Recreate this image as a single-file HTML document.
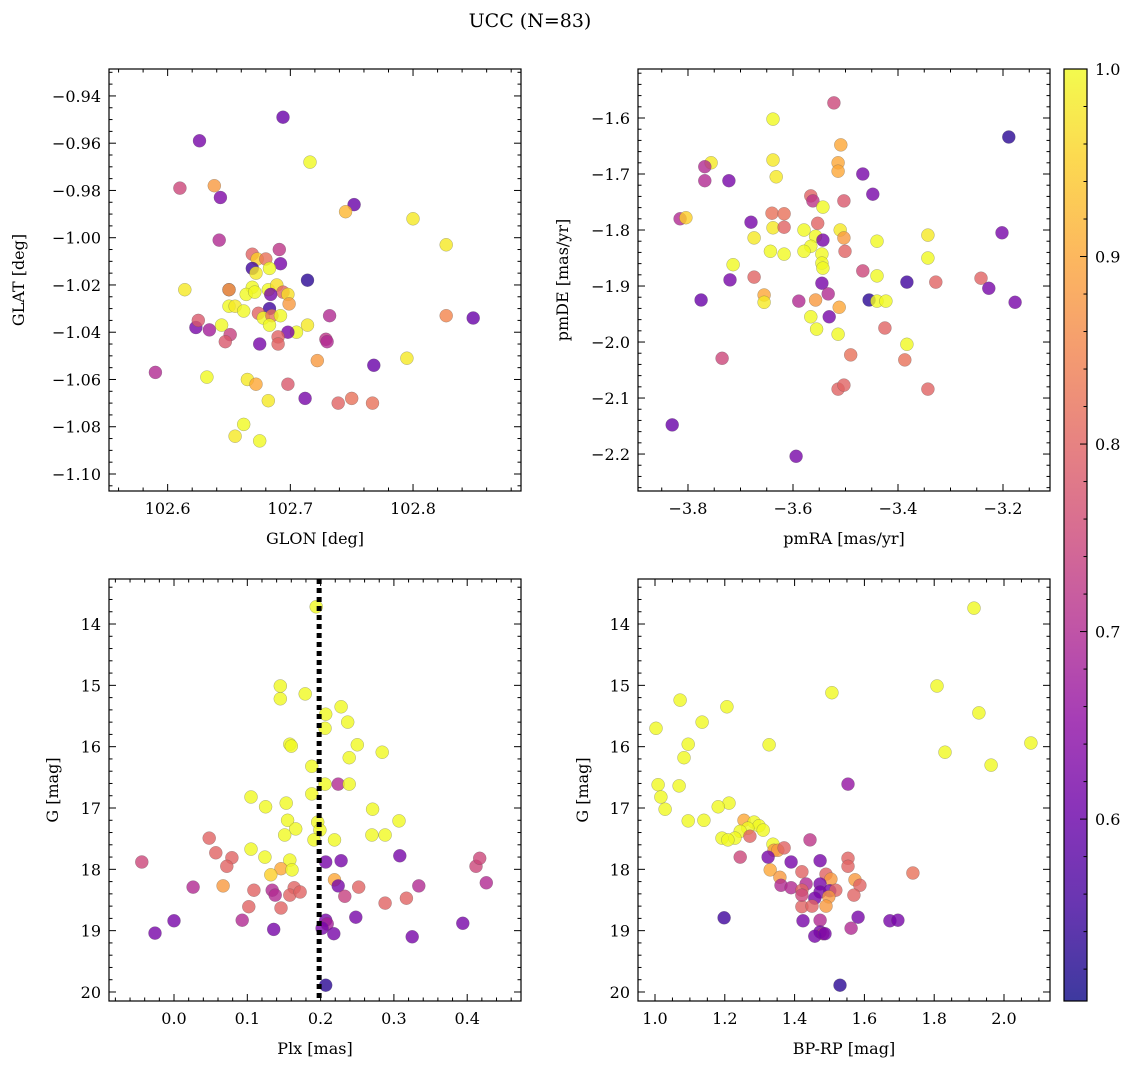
<!DOCTYPE html>
<html><head><meta charset="utf-8"><title>UCC (N=83)</title>
<style>
html,body{margin:0;padding:0;background:#fff;}
svg{display:block;font-family:"DejaVu Serif","Liberation Serif",serif;}
</style></head>
<body>
<svg id="chart" width="1136" height="1068" viewBox="0 0 1136 1068" xmlns="http://www.w3.org/2000/svg">
<defs>
<linearGradient id="cbgrad" x1="0" y1="1" x2="0" y2="0">
<stop offset="0" stop-color="#0d0887"/><stop offset="0.1" stop-color="#41049d"/><stop offset="0.2" stop-color="#6a00a8"/><stop offset="0.3" stop-color="#8f0da4"/><stop offset="0.4" stop-color="#b12a90"/><stop offset="0.5" stop-color="#cc4778"/><stop offset="0.6" stop-color="#e16462"/><stop offset="0.7" stop-color="#f2844b"/><stop offset="0.8" stop-color="#fca636"/><stop offset="0.9" stop-color="#fcce25"/><stop offset="1" stop-color="#f0f921"/>
</linearGradient>
</defs>
<text x="530" y="27" text-anchor="middle" font-size="19">UCC (N=83)</text>
</svg>
<script>
// Panel 1: GLON vs GLAT
const glonX=[102.694,102.626,102.610,102.638,102.643,102.716,102.752,102.745,102.800,102.827,102.642,102.691,102.669,102.673,102.680,102.692,102.669,102.683,102.672,102.714,102.614,102.650,102.650,102.669,102.682,102.689,102.694,102.698,102.664,102.671,102.684,102.699,102.650,102.655,102.662,102.683,102.674,102.678,102.685,102.692,102.683,102.732,102.714,102.705,102.698,102.849,102.827,102.644,102.623,102.634,102.625,102.651,102.647,102.690,102.690,102.675,102.729,102.730,102.722,102.768,102.795,102.590,102.632,102.665,102.672,102.698,102.682,102.712,102.739,102.750,102.767,102.662,102.655,102.675];
const glatY=[-0.949,-0.959,-0.979,-0.978,-0.983,-0.968,-0.986,-0.989,-0.992,-1.003,-1.001,-1.005,-1.007,-1.009,-1.009,-1.011,-1.013,-1.013,-1.015,-1.018,-1.022,-1.022,-1.022,-1.021,-1.022,-1.020,-1.023,-1.024,-1.024,-1.023,-1.024,-1.028,-1.029,-1.029,-1.031,-1.030,-1.032,-1.034,-1.033,-1.033,-1.037,-1.033,-1.037,-1.040,-1.040,-1.034,-1.033,-1.037,-1.038,-1.039,-1.035,-1.041,-1.044,-1.042,-1.045,-1.045,-1.043,-1.044,-1.052,-1.054,-1.051,-1.057,-1.059,-1.060,-1.062,-1.062,-1.069,-1.068,-1.070,-1.068,-1.070,-1.079,-1.084,-1.086];
const probA=[0.6,0.62,0.75,0.88,0.63,1.0,0.6,0.92,0.98,0.98,0.7,0.72,0.8,0.95,0.82,0.62,0.55,1.0,0.98,0.53,0.98,0.6,0.9,1.0,1.0,0.97,0.8,0.97,1.0,1.0,0.62,0.88,1.0,0.98,1.0,0.55,0.8,1.0,0.82,1.0,1.0,0.7,0.98,1.0,0.62,0.6,0.85,1.0,0.62,0.68,0.78,0.74,0.78,0.8,0.8,0.62,0.72,0.7,0.88,0.6,0.98,0.7,1.0,0.98,0.9,0.78,0.98,0.62,0.8,0.82,0.82,1.0,0.98,1.0];
// Panel 2: pmRA vs pmDE
const pmraX=[-3.522,-3.189,-3.638,-3.509,-3.756,-3.768,-3.638,-3.514,-3.467,-3.768,-3.722,-3.632,-3.514,-3.448,-3.566,-3.562,-3.503,-3.815,-3.804,-3.680,-3.640,-3.617,-3.202,-3.543,-3.638,-3.617,-3.553,-3.510,-3.557,-3.503,-3.543,-3.579,-3.674,-3.440,-3.343,-3.566,-3.579,-3.545,-3.501,-3.643,-3.617,-3.545,-3.343,-3.714,-3.543,-3.467,-3.674,-3.720,-3.440,-3.242,-3.545,-3.383,-3.328,-3.227,-3.533,-3.655,-3.775,-3.589,-3.557,-3.455,-3.440,-3.177,-3.655,-3.423,-3.512,-3.566,-3.531,-3.555,-3.514,-3.425,-3.383,-3.735,-3.490,-3.387,-3.514,-3.503,-3.343,-3.830,-3.594];
const pmdeY=[-1.573,-1.634,-1.602,-1.648,-1.680,-1.687,-1.675,-1.680,-1.700,-1.712,-1.712,-1.705,-1.695,-1.736,-1.739,-1.748,-1.748,-1.780,-1.778,-1.786,-1.770,-1.771,-1.805,-1.759,-1.796,-1.795,-1.788,-1.800,-1.811,-1.814,-1.818,-1.800,-1.814,-1.820,-1.809,-1.829,-1.838,-1.843,-1.838,-1.838,-1.843,-1.859,-1.850,-1.862,-1.868,-1.873,-1.884,-1.889,-1.882,-1.886,-1.895,-1.893,-1.893,-1.904,-1.914,-1.916,-1.925,-1.927,-1.925,-1.925,-1.927,-1.929,-1.929,-1.927,-1.938,-1.955,-1.955,-1.977,-1.986,-1.975,-2.004,-2.029,-2.023,-2.032,-2.084,-2.077,-2.084,-2.148,-2.204];
const probB=[0.75,0.53,1.0,0.9,0.98,0.7,0.98,0.9,0.62,0.7,0.62,0.98,0.9,0.62,0.8,0.72,0.78,0.7,0.95,0.62,0.82,0.82,0.62,1.0,0.98,0.8,0.8,0.98,1.0,0.88,0.62,1.0,0.98,1.0,0.98,1.0,1.0,1.0,0.8,1.0,1.0,1.0,1.0,1.0,1.0,0.75,0.8,0.62,1.0,0.8,0.62,0.55,0.8,0.62,0.7,0.9,0.6,0.7,0.88,0.53,1.0,0.62,0.98,1.0,0.9,1.0,0.62,1.0,1.0,0.8,1.0,0.75,0.82,0.82,0.8,0.8,0.8,0.6,0.62];
// Panel 3: Plx vs G
const plxX=[0.194,0.145,0.145,0.179,0.228,0.207,0.237,0.206,0.158,0.160,0.250,0.284,0.239,0.188,0.224,0.239,0.206,0.105,0.188,0.153,0.125,0.271,0.307,0.155,0.196,0.166,0.199,0.151,0.270,0.288,0.191,0.219,0.048,0.105,0.057,0.124,0.079,0.308,0.158,0.207,0.228,-0.044,0.072,0.412,0.417,0.426,0.146,0.161,0.132,0.219,0.224,0.026,0.067,0.334,0.109,0.134,0.138,0.164,0.158,0.172,0.252,0.233,0.317,0.288,0.102,0.146,0.093,0.248,0.207,0.209,0.394,0.000,0.136,0.202,-0.026,0.218,0.325,0.207];
const gmagA=[13.72,15.01,15.22,15.14,15.35,15.47,15.60,15.70,15.96,15.99,15.97,16.09,16.18,16.32,16.61,16.61,16.61,16.82,16.77,16.92,16.98,17.02,17.21,17.20,17.23,17.34,17.36,17.44,17.44,17.44,17.52,17.52,17.49,17.67,17.73,17.80,17.81,17.78,17.85,17.88,17.86,17.88,17.95,17.95,17.82,18.22,17.99,18.01,18.09,18.17,18.27,18.29,18.27,18.27,18.34,18.34,18.42,18.30,18.42,18.37,18.29,18.44,18.47,18.55,18.61,18.63,18.83,18.78,18.83,18.89,18.88,18.84,18.98,18.96,19.04,19.05,19.10,19.89];
const probC=[1.0,1.0,1.0,1.0,1.0,1.0,1.0,1.0,1.0,1.0,1.0,1.0,1.0,1.0,0.7,1.0,1.0,1.0,1.0,1.0,1.0,1.0,1.0,1.0,1.0,1.0,1.0,1.0,1.0,1.0,1.0,1.0,0.8,1.0,0.8,1.0,0.8,0.62,1.0,0.62,0.62,0.75,0.8,0.75,0.75,0.7,0.9,1.0,0.95,0.9,0.62,0.7,0.88,0.7,0.8,0.7,0.7,0.8,0.8,0.8,0.8,0.74,0.8,0.8,0.8,0.8,0.7,0.62,0.62,0.68,0.62,0.62,0.62,0.62,0.62,0.62,0.62,0.53];
const plxLine=[0.198];
// Panel 4: BP-RP vs G
const bprpX=[1.914,1.808,1.507,1.072,1.206,1.928,1.135,1.003,2.077,1.095,1.327,1.831,1.963,1.083,1.553,1.009,1.069,1.017,1.029,1.212,1.181,1.095,1.140,1.255,1.284,1.298,1.266,1.244,1.310,1.272,1.229,1.192,1.209,1.338,1.341,1.352,1.370,1.444,1.244,1.324,1.553,1.473,1.390,1.553,1.330,1.421,1.490,1.739,1.358,1.504,1.573,1.433,1.473,1.587,1.361,1.473,1.501,1.390,1.421,1.518,1.570,1.458,1.498,1.490,1.421,1.450,1.421,1.424,1.198,1.582,1.673,1.696,1.473,1.562,1.473,1.481,1.458,1.487,1.530];
const gmagB=[13.74,15.01,15.12,15.24,15.35,15.45,15.60,15.70,15.94,15.96,15.97,16.09,16.30,16.18,16.61,16.62,16.64,16.82,17.02,16.92,16.98,17.21,17.20,17.20,17.23,17.29,17.33,17.38,17.36,17.46,17.49,17.49,17.52,17.59,17.69,17.69,17.65,17.52,17.80,17.80,17.82,17.86,17.88,17.95,18.01,18.04,18.08,18.06,18.13,18.16,18.17,18.24,18.24,18.26,18.26,18.37,18.35,18.30,18.34,18.34,18.42,18.47,18.45,18.60,18.61,18.60,18.42,18.84,18.79,18.78,18.84,18.83,18.83,18.96,19.02,19.05,19.09,19.05,19.89];
const probD=[1.0,1.0,1.0,1.0,1.0,1.0,1.0,1.0,1.0,1.0,1.0,1.0,1.0,1.0,0.66,1.0,1.0,1.0,1.0,1.0,1.0,1.0,1.0,0.9,1.0,1.0,1.0,1.0,1.0,0.8,1.0,1.0,1.0,1.0,0.88,0.88,0.8,0.72,0.75,0.62,0.8,0.62,0.62,0.8,0.9,0.8,0.8,0.82,0.88,0.88,0.88,0.7,0.62,0.8,0.7,0.62,0.62,0.7,0.8,0.8,0.8,0.62,0.88,0.88,0.8,0.8,0.75,0.62,0.55,0.62,0.62,0.62,0.7,0.7,0.62,0.7,0.62,0.62,0.53];
// Colorbar
const cbTicks=[0.6,0.7,0.8,0.9,1.0];

const NS="http://www.w3.org/2000/svg";
const svg=document.getElementById('chart');
const stops=[[13,8,135],[65,4,157],[106,0,168],[143,13,164],[177,42,144],[204,71,120],[225,100,98],[242,132,75],[252,166,54],[252,206,37],[240,249,33]];
const VMIN=0.503,VMAX=1.0;
function plasma(p){let t=(p-VMIN)/(VMAX-VMIN);t=Math.max(0,Math.min(1,t))*10;const i=Math.min(9,Math.floor(t)),f=t-i;const a=stops[i],b=stops[i+1];return 'rgb('+a.map((v,k)=>Math.round(v+(b[k]-v)*f)).join(',')+')';}
function el(tag,attrs,parent){const e=document.createElementNS(NS,tag);for(const k in attrs)e.setAttribute(k,attrs[k]);(parent||svg).appendChild(e);return e;}
function fmt(v,d){let s=v.toFixed(d);if(s.startsWith('-'))s='\u2212'+s.slice(1);return s;}

function panel(cfg,xs,ys,ps){
  const g=el('g',{});
  
  
  const L=cfg.box[0],T=cfg.box[1],R=cfg.box[2],B=cfg.box[3];
  const sx=v=>L+(v-cfg.xr[0])/(cfg.xr[1]-cfg.xr[0])*(R-L);
  const sy=v=>cfg.yinv? T+(v-cfg.yr[0])/(cfg.yr[1]-cfg.yr[0])*(B-T) : B-(v-cfg.yr[0])/(cfg.yr[1]-cfg.yr[0])*(B-T);
  for(let i=0;i<xs.length;i++){
    const c=el('circle',{cx:sx(xs[i]).toFixed(1),cy:sy(ys[i]).toFixed(1),r:6.5,fill:plasma(ps[i]),'fill-opacity':0.8,stroke:'#555','stroke-width':0.4,'stroke-opacity':0.6},g);
    
    
  }
  if(cfg.vline){for(const v of cfg.vline){const l=el('line',{x1:sx(v),x2:sx(v),y1:T,y2:B,stroke:'#000','stroke-width':5,'stroke-dasharray':'5,4'},g);}}
  const fr=el('rect',{x:L,y:T,width:R-L,height:B-T,fill:'none',stroke:'#000','stroke-width':1.2},g);
  
  
  const eps=1e-9;
  const xa=el('g',{},g);
  let startM=Math.ceil((cfg.xr[0]-eps)/cfg.xminor);
  for(let k=startM;k*cfg.xminor<=cfg.xr[1]+eps;k++){const v=k*cfg.xminor;const x=sx(v);
    const isMaj=Math.abs(v/cfg.xmajor-Math.round(v/cfg.xmajor))<1e-6;const len=isMaj?7:3.5;
    el('line',{x1:x,x2:x,y1:B,y2:B-len,stroke:'#000','stroke-width':1},xa);el('line',{x1:x,x2:x,y1:T,y2:T+len,stroke:'#000','stroke-width':1},xa);
    if(isMaj){const t=el('text',{x:x,y:B+23,'text-anchor':'middle','font-size':16},xa);t.textContent=fmt(v,cfg.xdec);}}
  const ya=el('g',{},g);
  startM=Math.ceil((cfg.yr[0]-eps)/cfg.yminor);
  for(let k=startM;k*cfg.yminor<=cfg.yr[1]+eps;k++){const v=k*cfg.yminor;const y=sy(v);
    const isMaj=Math.abs(v/cfg.ymajor-Math.round(v/cfg.ymajor))<1e-6;const len=isMaj?7:3.5;
    el('line',{x1:L,x2:L+len,y1:y,y2:y,stroke:'#000','stroke-width':1},ya);el('line',{x1:R,x2:R-len,y1:y,y2:y,stroke:'#000','stroke-width':1},ya);
    if(isMaj){const t=el('text',{x:L-8,y:y+6,'text-anchor':'end','font-size':16},ya);t.textContent=fmt(v,cfg.ydec);}}
  const xl=el('text',{x:(L+R)/2,y:B+53,'text-anchor':'middle','font-size':16},g);xl.textContent=cfg.xlabel;
  
  const yx=cfg.ylx,yy=(T+B)/2;
  const yl=el('text',{x:yx,y:yy,'text-anchor':'middle','font-size':16,transform:'rotate(-90 '+yx+' '+yy+')'},g);yl.textContent=cfg.ylabel;
  
}

panel({name:'glon-glat-panel',box:[109,69,521,491],xr:[102.5522,102.8880],yr:[-1.1072,-0.9286],xmajor:0.1,xminor:0.02,ymajor:0.02,yminor:0.005,xdec:1,ydec:2,xlabel:'GLON [deg]',ylabel:'GLAT [deg]',ylx:24},glonX,glatY,probA);
panel({name:'pm-panel',box:[638,69,1050,491],xr:[-3.8952,-3.1105],yr:[-2.266,-1.5125],xmajor:0.2,xminor:0.05,ymajor:0.1,yminor:0.02,xdec:1,ydec:1,xlabel:'pmRA [mas/yr]',ylabel:'pmDE [mas/yr]',ylx:568},pmraX,pmdeY,probB);
panel({name:'plx-g-panel',box:[109,579,521,1001],xr:[-0.0887,0.4734],yr:[13.266,20.147],yinv:true,xmajor:0.1,xminor:0.02,ymajor:1,yminor:0.2,xdec:1,ydec:0,xlabel:'Plx [mas]',ylabel:'G [mag]',ylx:58,vline:plxLine},plxX,gmagA,probC);
panel({name:'cmd-panel',box:[638,579,1050,1001],xr:[0.9513,2.1318],yr:[13.266,20.147],yinv:true,xmajor:0.2,xminor:0.05,ymajor:1,yminor:0.2,xdec:1,ydec:0,xlabel:'BP-RP [mag]',ylabel:'G [mag]',ylx:588},bprpX,gmagB,probD);

(function(){
  const L=1064,R=1087,T=69,B=1001;
  const g=el('g',{});
  
  
  el('rect',{x:L,y:T,width:R-L,height:B-T,fill:'url(#cbgrad)','fill-opacity':0.8},g);
  el('rect',{x:L,y:T,width:R-L,height:B-T,fill:'none',stroke:'#000','stroke-width':1.2},g);
  const sy=v=>B-(v-VMIN)/(VMAX-VMIN)*(B-T);
  for(let k=Math.ceil(VMIN/0.02);k*0.02<=VMAX+1e-9;k++){const v=k*0.02;const y=sy(v);const maj=Math.abs(v*10-Math.round(v*10))<1e-6;
    el('line',{x1:R,x2:R-(maj?7:3.5),y1:y,y2:y,stroke:'#000','stroke-width':1},g);}
  for(const v of cbTicks){const t=el('text',{x:R+8,y:sy(v)+6,'font-size':16},g);t.textContent=v.toFixed(1);
    
    }
})();
</script>
</body></html>
